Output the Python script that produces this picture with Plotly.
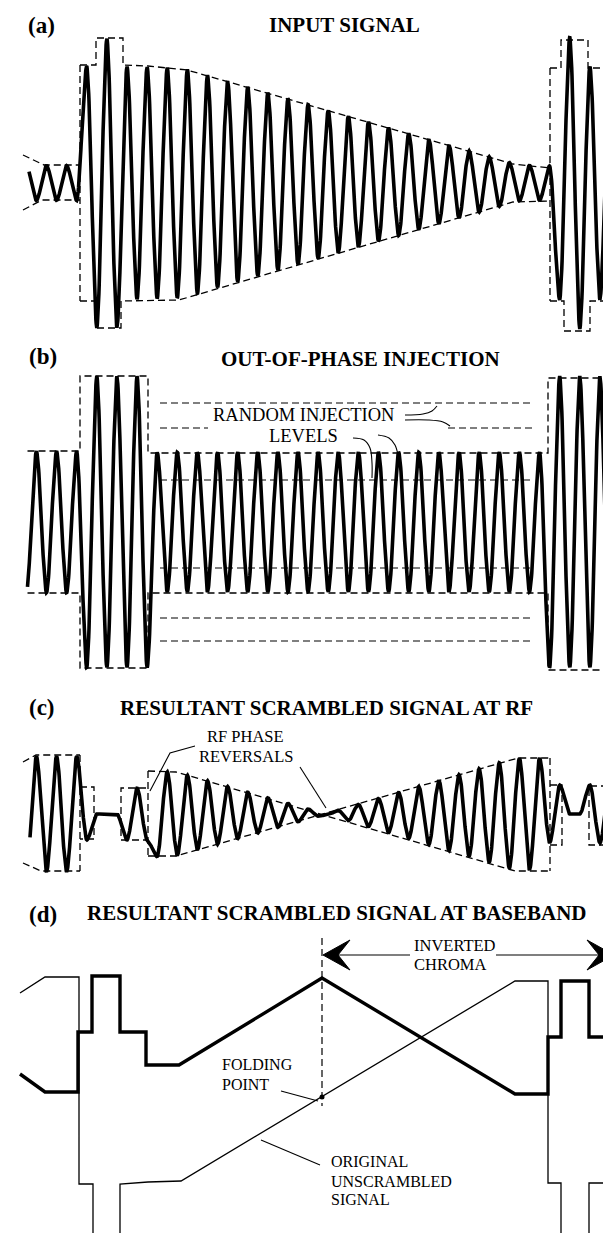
import numpy as np
import plotly.graph_objects as go

W, H = 611, 1233
FONT = "Liberation Serif, Times New Roman, serif"

# carrier (colour sub-carrier) timing: crest position and period along the line
CARRIER_PERIOD = 20.125
CARRIER_CREST = 38.5

# panel layout: (top row, bottom row, zero row) in page pixels
PANELS = {"a": (0, 330, 175), "b": (330, 680, 514), "c": (680, 885, 806), "d": (885, 1233, 1100)}
YREF = {"a": "y", "b": "y2", "c": "y3", "d": "y4"}

# ---------------- (a) INPUT SIGNAL ----------------
A_ENV_X = [21, 72, 72, 88, 88, 114, 114, 175, 510, 542, 542, 554, 554, 581, 581, 611]
A_ENV_AMP = [17.5, 17.5, 117, 117, 145, 145, 117, 115, 18, 17, 117, 117, 146, 146, 117, 117]
A_SPAN = [21, 609]
A_DASH = {
    "lead_top": ([15, 36, 72], [28, 18, 18]),
    "lead_bot": ([15, 34, 72], [-27, -17, -17]),
    "edge_l": ([72, 72], [118, -118]),
    "top": ([72, 88, 88, 115, 115, 140, 179, 505, 542], [118, 118, 145, 145, 118, 117, 113, 19, 15]),
    "bot": ([72, 88, 88, 113, 113, 171, 505, 542], [-118, -118, -145, -145, -118, -117, -19, -18]),
    "edge_r": ([542, 542], [115, -118]),
    "top_r": ([542, 553, 553, 580, 580, 611], [115, 115, 143, 143, 115, 115]),
    "bot_r": ([542, 556, 556, 582, 582, 611], [-118, -118, -148, -148, -118, -118]),
}

# ---------------- (b) OUT-OF-PHASE INJECTION ----------------
B_ENV_X = [19.5, 72, 72, 140, 140, 540, 540, 611]
B_ENV_AMP = [-71, -71, -146, -146, -70, -70, -146, -146]
B_SPAN = [19.5, 611]
B_DASH = {
    "top": ([19.5, 72, 72, 140, 140, 540, 540, 611], [71, 71, 146, 146, 69, 69, 144, 144]),
    "bot": ([19.5, 72, 72, 140, 140, 540, 540, 611], [-71, -71, -146, -146, -71, -71, -148, -148]),
}
B_LEVELS = [119, 94, 42, -46, -96, -119]
B_LEVEL_X = [152, 526]
B_LEVEL_GAP = {94: (200, 440)}
B_LEADERS = [
    ([397, 415, 424, 429], [107, 108, 111, 116]),
    ([397, 420, 435, 442], [102, 102, 100, 96]),
    ([345, 356, 362, 364, 364], [84, 82, 74, 59, 44]),
    ([370, 381, 387, 390], [87, 84, 77, 67]),
]

# ---------------- (c) RESULTANT SCRAMBLED SIGNAL AT RF ----------------
C_ENV_X = [22, 72, 72, 86, 86, 113, 113, 140, 140, 168, 318, 507, 539, 539, 555, 555, 581, 581, 611]
C_ENV_AMP = [-58, -58, -26, -26, 0, 0, -26, -26, 43, 42, 0, -56, -56, -29, -29, 0, 0, 29, 29]
C_SPAN = [22, 609]
C_DASH = {
    "lead_top": ([15, 28, 72], [52, 59, 59]),
    "lead_bot": ([15, 33, 72], [-49, -57, -57]),
    "edge1": ([72, 72], [59, -57]),
    "boxA": ([72, 86, 86, 72], [27, 27, -25, -25]),
    "boxB": ([138, 113, 113, 138], [26, 26, -26, -26]),
    "edge2": ([140, 140], [43, -42]),
    "diag1": ([140, 168, 507, 542], [43, 42, -57, -57]),
    "diag2": ([140, 168, 510, 542], [-42, -42, 56, 56]),
    "edge3": ([542, 542], [56, -57]),
    "boxC": ([542, 554, 554, 542], [29, 29, -31, -31]),
    "boxD": ([611, 581, 581, 611], [28, 28, -31, -31]),
}
C_LEADERS = [([187, 162, 142], [68, 61, 23]), ([292, 318], [47, 6])]

# ---------------- (d) RESULTANT SCRAMBLED SIGNAL AT BASEBAND ----------------
D_SCRAMBLED_X = [12, 37, 70, 70, 84, 84, 112, 112, 138, 138, 171, 314, 507, 540, 540, 553, 553, 581, 581, 606, 606]
D_SCRAMBLED_Y = [34, 16, 16, 76, 76, 132, 132, 76, 76, 43, 43, 130, 14, 14, 71, 71, 127, 127, 71, 71, 38]
D_ORIGINAL_X = [12, 37, 71, 71, 85, 85, 112, 112, 140, 173, 507, 540, 540, 553, 553, 581, 581, 606, 606]
D_ORIGINAL_Y = [115, 131, 131, -76, -76, -132, -132, -76, -74, -73, 127, 127, -75, -75, -132, -132, -75, -75, -67]
D_MARKERS = {"fold": ([314, 314], [170, 2]), "end": ([606, 606], [170, 37])}
D_FOLD_POINT = (314, 11)
D_ARROW_Y = 153
D_ARROW_SEGS = [(330, 402), (488, 592)]
D_HEADS = [([315, 342, 330, 342, 315], [153, 168, 153, 138, 153]),
           ([606, 579, 591, 579, 606], [153, 168, 153, 138, 153])]
D_LEADERS = [([273, 310], [17, 7]), ([253, 312], [-32, -57])]

# ---------------- texts ----------------
PANEL_TAGS = [("a", "(a)", 33, 158), ("b", "(b)", 35, 166), ("c", "(c)", 34, 107), ("d", "(d)", 35, 194)]
TITLES = [
    ("a", "INPUT SIGNAL", 336, 158),
    ("b", "OUT-OF-PHASE INJECTION", 352.5, 163),
    ("c", "RESULTANT SCRAMBLED SIGNAL AT RF", 318.5, 106),
    ("d", "RESULTANT SCRAMBLED SIGNAL AT BASEBAND", 328.5, 195),
]
LABELS = [
    ("b", "RANDOM INJECTION", 295, 107, "center", 18.5),
    ("b", "LEVELS", 295, 86, "center", 18.5),
    ("c", "RF PHASE", 237, 78, "center", 16.5),
    ("c", "REVERSALS", 238, 58, "center", 16.5),
    ("d", "INVERTED", 404, 162.5, "left", 16.5),
    ("d", "CHROMA", 404, 143.5, "left", 16.5),
    ("d", "FOLDING", 212, 43.5, "left", 16),
    ("d", "POINT", 212, 23.5, "left", 16),
    ("d", "ORIGINAL", 321, -53, "left", 16),
    ("d", "UNSCRAMBLED", 321, -73, "left", 16),
    ("d", "SIGNAL", 321, -91.5, "left", 16),
]


def wave(span, env_x, env_amp, step=0.3):
    """Carrier drawn crest-to-trough, each extreme touching the read envelope."""
    x = np.arange(span[0], span[1] + 1e-9, step)
    half = CARRIER_PERIOD / 2
    u = (x - CARRIER_CREST) / half
    k = np.floor(u)
    t = u - k
    xk = CARRIER_CREST + k * half
    sk = np.where(np.mod(k, 2) == 0, 1.0, -1.0)
    vk = sk * np.interp(xk, env_x, env_amp)
    vk1 = -sk * np.interp(xk + half, env_x, env_amp)
    s = 0.85 * (1 - np.cos(np.pi * t)) / 2 + 0.15 * t
    y = vk + (vk1 - vk) * s
    return x, y


fig = go.Figure()


def line(panel, xs, ys, width=1.3, dash=None, shape="linear"):
    fig.add_trace(go.Scatter(
        x=list(xs), y=list(ys), mode="lines", yaxis=YREF[panel],
        line=dict(color="black", width=width, dash=dash, shape=shape),
        hoverinfo="skip", showlegend=False))


DASH = "7px,4px"

# (a)
for xs, ys in A_DASH.values():
    line("a", xs, ys, 1.3, DASH)
wx, wy = wave(A_SPAN, A_ENV_X, A_ENV_AMP)
line("a", wx, wy, 3.6)

# (b)
for xs, ys in B_DASH.values():
    line("b", xs, ys, 1.3, DASH)
for lv in B_LEVELS:
    if lv in B_LEVEL_GAP:
        g0, g1 = B_LEVEL_GAP[lv]
        line("b", [B_LEVEL_X[0], g0], [lv, lv], 1.2, DASH)
        line("b", [g1, B_LEVEL_X[1]], [lv, lv], 1.2, DASH)
    else:
        line("b", B_LEVEL_X, [lv, lv], 1.2, DASH)
for xs, ys in B_LEADERS:
    line("b", xs, ys, 1.1, None, "spline")
wx, wy = wave(B_SPAN, B_ENV_X, B_ENV_AMP)
line("b", wx, wy, 3.6)

# (c)
for xs, ys in C_DASH.values():
    line("c", xs, ys, 1.3, DASH)
for xs, ys in C_LEADERS:
    line("c", xs, ys, 1.1)
wx, wy = wave(C_SPAN, C_ENV_X, C_ENV_AMP)
line("c", wx, wy, 3.6)

# (d)
for xs, ys in D_MARKERS.values():
    line("d", xs, ys, 1.2, DASH)
line("d", D_ORIGINAL_X, D_ORIGINAL_Y, 1.3)
line("d", D_SCRAMBLED_X, D_SCRAMBLED_Y, 3.4)
for x0, x1 in D_ARROW_SEGS:
    line("d", [x0, x1], [D_ARROW_Y, D_ARROW_Y], 1.2)
for xs, ys in D_HEADS:
    fig.add_trace(go.Scatter(x=xs, y=ys, mode="lines", fill="toself", fillcolor="black",
                             line=dict(color="black", width=1), yaxis="y4",
                             hoverinfo="skip", showlegend=False))
for xs, ys in D_LEADERS:
    line("d", xs, ys, 1.1)
fig.add_trace(go.Scatter(x=[D_FOLD_POINT[0]], y=[D_FOLD_POINT[1]], mode="markers", yaxis="y4",
                         marker=dict(color="black", size=5), hoverinfo="skip", showlegend=False))

annotations = []
for p, txt, x, y in PANEL_TAGS:
    annotations.append(dict(text="<b>%s</b>" % txt, x=x, y=y, xref="x", yref=YREF[p],
                            showarrow=False, xanchor="center", yanchor="middle",
                            font=dict(family=FONT, size=23, color="black")))
for p, txt, x, y in TITLES:
    annotations.append(dict(text="<b>%s</b>" % txt, x=x, y=y, xref="x", yref=YREF[p],
                            showarrow=False, xanchor="center", yanchor="middle",
                            font=dict(family=FONT, size=21, color="black")))
for p, txt, x, y, anc, sz in LABELS:
    annotations.append(dict(text=txt, x=x, y=y, xref="x", yref=YREF[p],
                            showarrow=False, xanchor=anc, yanchor="middle",
                            font=dict(family=FONT, size=sz, color="black")))

layout = dict(
    width=W, height=H, margin=dict(l=0, r=0, t=0, b=0),
    paper_bgcolor="white", plot_bgcolor="white", showlegend=False,
    xaxis=dict(range=[0, W], domain=[0, 1], visible=False, fixedrange=True),
    annotations=annotations,
)
for i, (p, (top, bot, zero)) in enumerate(PANELS.items()):
    key = "yaxis" if i == 0 else "yaxis%d" % (i + 1)
    layout[key] = dict(domain=[1 - bot / H, 1 - top / H], range=[zero - bot, zero - top],
                       visible=False, fixedrange=True, anchor="x")
fig.update_layout(**layout)
fig.write_html("out.html")
